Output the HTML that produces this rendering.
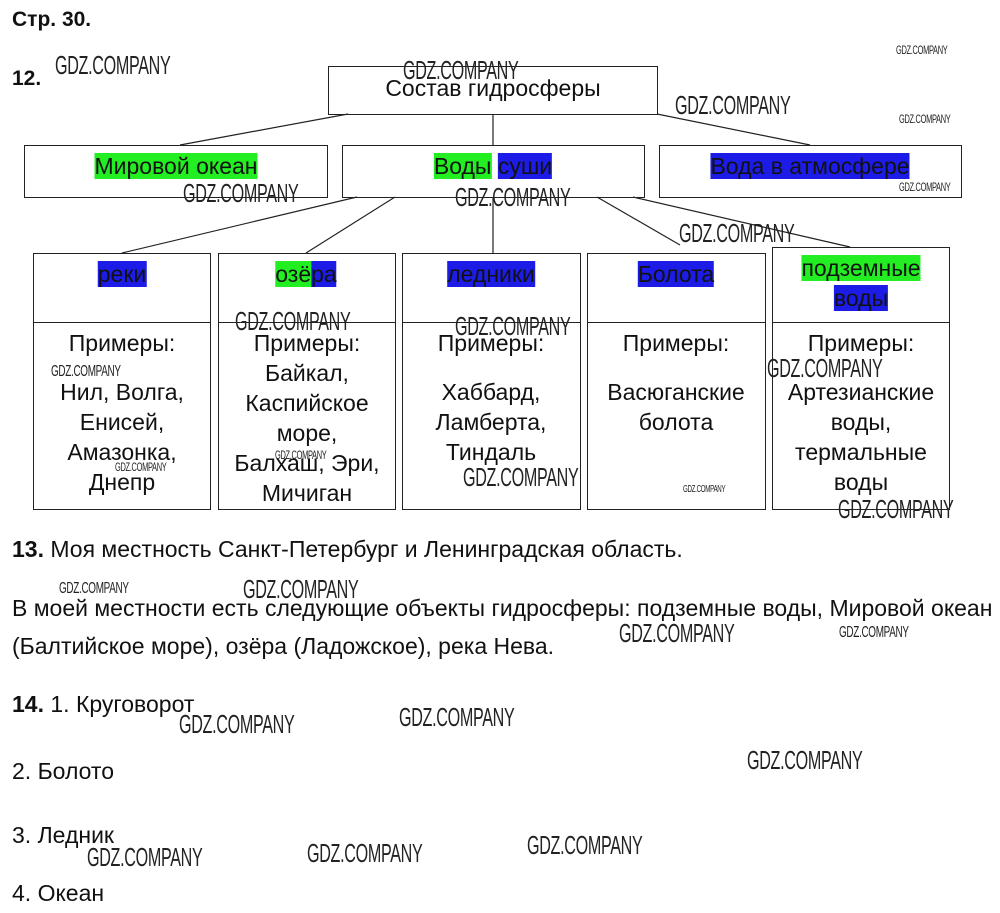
<!DOCTYPE html>
<html><head><meta charset="utf-8"><style>
body{margin:0;width:1000px;height:913px;background:#fff;position:relative;overflow:hidden;font-family:"Liberation Sans",Arial,sans-serif;color:#111}
.a{position:absolute;white-space:nowrap}
.box{position:absolute;border:1px solid #222;box-sizing:border-box}
.t{position:absolute;font-size:23px;line-height:26px;white-space:nowrap;transform:translate(-50%,-50%)}
.g{background:#22ee22}.b{background:#1c1ce6}
.wm{position:absolute;font-family:"Liberation Sans Narrow","Liberation Sans",sans-serif;color:#222;white-space:nowrap;transform-origin:0 0;transform:scaleX(.62);font-weight:normal;letter-spacing:-0.5px}
.p{font-size:23px;line-height:24px;position:absolute;white-space:nowrap}
</style></head><body>
<div class="a" style="left:12px;top:8px;font-size:21px;font-weight:bold">Стр. 30.</div>
<div class="a" style="left:12px;top:67px;font-size:21px;font-weight:bold">12.</div>

<svg width="1000" height="913" style="position:absolute;left:0;top:0">
<g stroke="#222" stroke-width="1.2" fill="none">
<line x1="348" y1="114" x2="180" y2="145"/>
<line x1="493" y1="114" x2="493" y2="145"/>
<line x1="657" y1="114" x2="810" y2="145"/>
<line x1="357" y1="197" x2="122" y2="253"/>
<line x1="395" y1="197" x2="306" y2="253"/>
<line x1="493" y1="197" x2="493" y2="253"/>
<line x1="597" y1="197" x2="680" y2="245"/>
<line x1="633" y1="197" x2="850" y2="247"/>
</g></svg>

<div class="box" style="left:328px;top:66px;width:330px;height:49px"></div>
<div class="t" style="left:493px;top:88px">Состав гидросферы</div>

<div class="box" style="left:24px;top:145px;width:304px;height:53px"></div>
<div class="t g" style="left:176px;top:166px">Мировой океан</div>
<div class="box" style="left:342px;top:145px;width:303px;height:53px"></div>
<div class="t" style="left:493px;top:166px"><span class="g">Воды</span> <span class="b">суши</span></div>
<div class="box" style="left:659px;top:145px;width:303px;height:53px"></div>
<div class="t b" style="left:810px;top:166px">Вода в атмосфере</div>

<div class="box" style="left:33px;top:253px;width:178px;height:70px"></div>
<div class="box" style="left:33px;top:322px;width:178px;height:188px"></div>
<div class="box" style="left:218px;top:253px;width:178px;height:70px"></div>
<div class="box" style="left:218px;top:322px;width:178px;height:188px"></div>
<div class="box" style="left:402px;top:253px;width:179px;height:70px"></div>
<div class="box" style="left:402px;top:322px;width:179px;height:188px"></div>
<div class="box" style="left:587px;top:253px;width:179px;height:70px"></div>
<div class="box" style="left:587px;top:322px;width:179px;height:188px"></div>
<div class="box" style="left:772px;top:247px;width:178px;height:76px"></div>
<div class="box" style="left:772px;top:322px;width:178px;height:188px"></div>

<div class="t b" style="left:122px;top:274px">реки</div>
<div class="t" style="left:306px;top:274px"><span class="g">озё</span><span class="b">ра</span></div>
<div class="t b" style="left:491px;top:274px">ледники</div>
<div class="t b" style="left:676px;top:274px">Болота</div>
<div class="t g" style="left:861px;top:268px">подземные</div>
<div class="t b" style="left:861px;top:298px">воды</div>

<div class="t" style="left:122px;top:343px">Примеры:</div>
<div class="t" style="left:122px;top:392px">Нил, Волга,</div>
<div class="t" style="left:122px;top:422px">Енисей,</div>
<div class="t" style="left:122px;top:452px">Амазонка,</div>
<div class="t" style="left:122px;top:482px">Днепр</div>

<div class="t" style="left:307px;top:343px">Примеры:</div>
<div class="t" style="left:307px;top:373px">Байкал,</div>
<div class="t" style="left:307px;top:403px">Каспийское</div>
<div class="t" style="left:307px;top:433px">море,</div>
<div class="t" style="left:307px;top:463px">Балхаш, Эри,</div>
<div class="t" style="left:307px;top:493px">Мичиган</div>

<div class="t" style="left:491px;top:343px">Примеры:</div>
<div class="t" style="left:491px;top:392px">Хаббард,</div>
<div class="t" style="left:491px;top:422px">Ламберта,</div>
<div class="t" style="left:491px;top:452px">Тиндаль</div>

<div class="t" style="left:676px;top:343px">Примеры:</div>
<div class="t" style="left:676px;top:392px">Васюганские</div>
<div class="t" style="left:676px;top:422px">болота</div>

<div class="t" style="left:861px;top:343px">Примеры:</div>
<div class="t" style="left:861px;top:392px">Артезианские</div>
<div class="t" style="left:861px;top:422px">воды,</div>
<div class="t" style="left:861px;top:452px">термальные</div>
<div class="t" style="left:861px;top:482px">воды</div>

<div class="p" style="left:12px;top:537px"><b>13.</b> Моя местность Санкт-Петербург и Ленинградская область.</div>
<div class="p" style="left:12px;top:596px">В моей местности есть следующие объекты гидросферы: подземные воды, Мировой океан</div>
<div class="p" style="left:12px;top:634px">(Балтийское море), озёра (Ладожское), река Нева.</div>
<div class="p" style="left:12px;top:692px"><b>14.</b> 1. Круговорот</div>
<div class="p" style="left:12px;top:759px">2. Болото</div>
<div class="p" style="left:12px;top:823px">3. Ледник</div>
<div class="p" style="left:12px;top:881px">4. Океан</div>

<div class="wm" style="left:55px;top:50px;font-size:26px">GDZ.COMPANY</div>
<div class="wm" style="left:403px;top:55px;font-size:26px">GDZ.COMPANY</div>
<div class="wm" style="left:896px;top:43px;font-size:12px">GDZ.COMPANY</div>
<div class="wm" style="left:675px;top:90px;font-size:26px">GDZ.COMPANY</div>
<div class="wm" style="left:899px;top:112px;font-size:12px">GDZ.COMPANY</div>
<div class="wm" style="left:183px;top:178px;font-size:26px">GDZ.COMPANY</div>
<div class="wm" style="left:455px;top:182px;font-size:26px">GDZ.COMPANY</div>
<div class="wm" style="left:899px;top:180px;font-size:12px">GDZ.COMPANY</div>
<div class="wm" style="left:679px;top:218px;font-size:26px">GDZ.COMPANY</div>
<div class="wm" style="left:235px;top:306px;font-size:26px">GDZ.COMPANY</div>
<div class="wm" style="left:455px;top:311px;font-size:26px">GDZ.COMPANY</div>
<div class="wm" style="left:51px;top:363px;font-size:16px">GDZ.COMPANY</div>
<div class="wm" style="left:767px;top:353px;font-size:26px">GDZ.COMPANY</div>
<div class="wm" style="left:275px;top:448px;font-size:12px">GDZ.COMPANY</div>
<div class="wm" style="left:115px;top:460px;font-size:12px">GDZ.COMPANY</div>
<div class="wm" style="left:463px;top:462px;font-size:26px">GDZ.COMPANY</div>
<div class="wm" style="left:683px;top:484px;font-size:10px">GDZ.COMPANY</div>
<div class="wm" style="left:838px;top:494px;font-size:26px">GDZ.COMPANY</div>
<div class="wm" style="left:59px;top:580px;font-size:16px">GDZ.COMPANY</div>
<div class="wm" style="left:243px;top:574px;font-size:26px">GDZ.COMPANY</div>
<div class="wm" style="left:619px;top:618px;font-size:26px">GDZ.COMPANY</div>
<div class="wm" style="left:839px;top:624px;font-size:16px">GDZ.COMPANY</div>
<div class="wm" style="left:399px;top:702px;font-size:26px">GDZ.COMPANY</div>
<div class="wm" style="left:179px;top:709px;font-size:26px">GDZ.COMPANY</div>
<div class="wm" style="left:747px;top:745px;font-size:26px">GDZ.COMPANY</div>
<div class="wm" style="left:527px;top:830px;font-size:26px">GDZ.COMPANY</div>
<div class="wm" style="left:307px;top:838px;font-size:26px">GDZ.COMPANY</div>
<div class="wm" style="left:87px;top:842px;font-size:26px">GDZ.COMPANY</div>
</body></html>
